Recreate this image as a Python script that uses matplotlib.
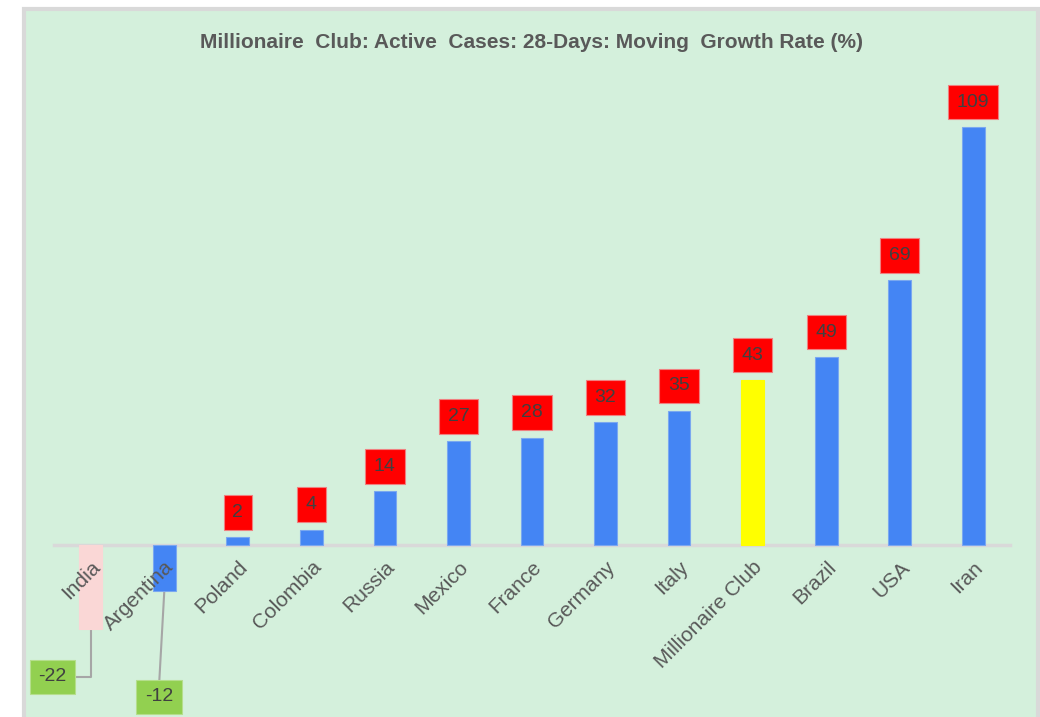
import matplotlib
matplotlib.use("Agg")
import matplotlib.pyplot as plt
from matplotlib.patches import Rectangle

plt.rcParams['font.family'] = ['Liberation Sans', 'DejaVu Sans']

countries = ['India', 'Argentina', 'Poland', 'Colombia', 'Russia', 'Mexico', 'France',
             'Germany', 'Italy', 'Millionaire Club', 'Brazil', 'USA', 'Iran']
growth = [-22, -12, 2, 4, 14, 27, 28, 32, 35, 43, 49, 69, 109]
bar_colors = ['#FAD7D6', '#4485F4', '#4485F4', '#4485F4', '#4485F4', '#4485F4', '#4485F4',
              '#4485F4', '#4485F4', '#FFFF00', '#4485F4', '#4485F4', '#4485F4']

W, H = 1040, 717
fig = plt.figure(figsize=(W / 100, H / 100), dpi=100)
fig.patch.set_facecolor('white')
# chart area box
fig.patches.append(Rectangle((24 / W, -0.01), (1038 - 24) / W, (H - 9) / H + 0.01,
                             transform=fig.transFigure, facecolor='#D4F0DC',
                             edgecolor='#D9D9D9', linewidth=3, zorder=-10))

ax = fig.add_axes([54 / W, 0, (1010 - 54) / W, 637 / H])
ax.patch.set_alpha(0)
for s in ['top', 'left', 'right']:
    ax.spines[s].set_visible(False)
ax.spines['bottom'].set_position(('data', 0))
ax.spines['bottom'].set_color('#D9D9D9')
ax.spines['bottom'].set_linewidth(2.5)
ax.spines['bottom'].set_zorder(0.5)

x = list(range(len(countries)))
edge = ['#FAD7D6' if c == '#FAD7D6' else ('#FFFF00' if c == '#FFFF00' else '#7AA8F0') for c in bar_colors]
ax.bar(x, growth, width=0.31, color=bar_colors, edgecolor=edge, linewidth=0.8, zorder=1)

ax.set_xlim(-0.5, 12.5)
ax.set_ylim(-44.85, 121.25)
ax.set_yticks([])
ax.set_xticks(x)
ax.set_xticklabels(countries, rotation=45, ha='right', va='top', rotation_mode='anchor',
                   fontsize=15, color='#595959')
ax.tick_params(axis='x', length=0, pad=9)
ax.xaxis.set_zorder(5)

for xi, v in zip(x, growth):
    if v > 0:
        ax.text(xi, v + 6.5, str(v), ha='center', va='center', fontsize=14, color='#404040',
                bbox=dict(boxstyle='square,pad=0.45', facecolor='#FF0000', edgecolor='#F08080',
                          linewidth=0.8), zorder=3)

# negative values: green callouts with leader lines
neg_pos = {0: (-0.52, -34.4), 1: (0.93, -39.6)}
for xi, (lx, ly) in neg_pos.items():
    v = growth[xi]
    if xi == 0:
        ax.plot([xi, xi, lx + 0.3], [v, ly, ly], color='#A6A6A6', linewidth=1.5, zorder=0.8)
    else:
        ax.plot([xi, lx], [v, ly + 3.5], color='#A6A6A6', linewidth=1.5, zorder=0.8)
    ax.text(lx, ly, str(v), ha='center', va='center', fontsize=14, color='#404040',
            bbox=dict(boxstyle='square,pad=0.45', facecolor='#92D050', edgecolor='#B5DE8C',
                      linewidth=0.8), zorder=3)

fig.text(532 / W, 1 - 43 / H, 'Millionaire  Club: Active  Cases: 28-Days: Moving  Growth Rate (%)',
         ha='center', va='center', fontsize=15, fontweight='bold', color='#595959')

fig.savefig('out.png', dpi=100)
